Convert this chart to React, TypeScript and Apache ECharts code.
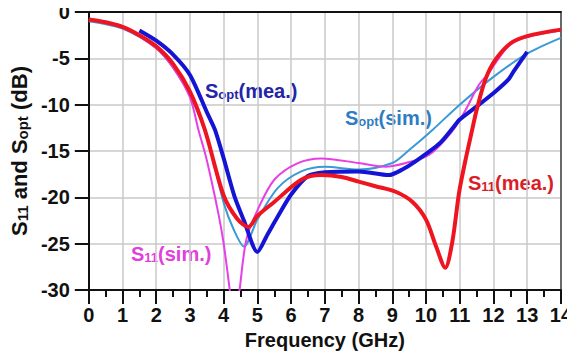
import React, { useEffect, useRef } from "react";
import * as echarts from "echarts";

const xTicks = [0, 14];
const yRange = [-30, 0];

const s11MeaX = [0, 0.5, 1, 1.5, 2, 2.5, 3, 3.44, 4.0, 4.4, 4.73, 5.0, 5.5, 6.3, 6.9, 7.5, 8.0, 8.5, 9.1, 9.6, 10.0, 10.3, 10.57, 10.78, 10.98, 11.17, 11.37, 11.5, 11.76, 12.05, 12.5, 13.0, 14.0];
const s11MeaY = [-0.8, -1.1, -1.6, -2.5, -3.7, -5.6, -8.6, -12.7, -19.8, -22.3, -23.2, -22.0, -20.5, -18.1, -17.6, -17.8, -18.3, -18.8, -19.4, -20.5, -22.4, -25.3, -27.6, -24.8, -19.5, -16.0, -12.7, -10.6, -7.3, -5.2, -3.4, -2.6, -1.9];

const soptMeaX = [1.5, 2, 2.5, 3, 3.5, 3.74, 4.0, 4.32, 4.6, 5.0, 5.3, 5.6, 6.0, 6.5, 7.0, 8.0, 8.9, 9.3, 9.7, 10.4, 10.8, 11.0, 11.5, 12.05, 12.44, 12.6, 13.0];
const soptMeaY = [-2.0, -3.1, -4.6, -6.8, -10.8, -12.7, -15.8, -19.9, -22.5, -25.9, -24.0, -22.1, -19.7, -17.7, -17.3, -17.2, -17.6, -17.0, -16.1, -14.2, -12.5, -11.6, -10.2, -8.6, -7.3, -6.4, -4.3];

const soptSimX = [0, 1, 2, 2.5, 3, 3.5, 4.0, 4.3, 4.6, 5.0, 5.6, 6.3, 7.0, 8.0, 9.0, 9.5, 10.2, 11.0, 12.0, 13.0, 14.0];
const soptSimY = [-1.0, -1.8, -3.9, -6.0, -9.0, -13.5, -20.6, -23.5, -25.3, -22.4, -19.0, -17.2, -16.7, -17.0, -16.3, -14.9, -12.7, -10.0, -7.0, -4.5, -2.8];

const s11SimX = [0, 1, 2, 2.5, 3, 3.25, 3.5, 3.84, 4.0, 4.18, 4.32, 4.47, 4.67, 5.0, 5.5, 6.2, 6.9, 8.0, 8.8, 9.4, 10.1, 10.77, 11.17, 11.56, 11.86, 12.1, 12.5, 13.0, 14.0];
const s11SimY = [-0.8, -1.7, -3.9, -6.0, -9.2, -12.7, -16.0, -21.7, -25.0, -30.0, -34.0, -30.0, -24.6, -21.4, -18.1, -16.3, -15.8, -16.3, -16.7, -16.3, -15.4, -12.9, -10.6, -7.9, -6.6, -5.3, -3.5, -2.7, -2.0];

const pairs = (xs: number[], ys: number[]) => xs.map((x, i) => [x, ys[i]]);

const FONT = "'Liberation Sans', Arial, sans-serif";

function label(main1: string, sub: string, main2: string, color: string, size = 20, subSize = 13) {
  return {
    text: `{m|${main1}}{s|${sub}}{m|${main2}}`,
    rich: {
      m: { fontSize: size, fontWeight: "bold", fontFamily: FONT, fill: color, color, lineHeight: size },
      s: { fontSize: subSize, fontWeight: "bold", fontFamily: FONT, fill: color, color, lineHeight: 6, verticalAlign: "bottom" },
    },
  };
}

export default function App() {
  const ref = useRef<HTMLDivElement>(null);
  useEffect(() => {
    if (!ref.current) return;
    const chart = echarts.init(ref.current, null, { renderer: "svg" });
    const gridColor = "#c8c8c8";
    chart.setOption({
      animation: false,
      backgroundColor: "#ffffff",
      grid: { left: 86, right: 12, top: 12, bottom: 71, containLabel: false },
      xAxis: [
        {
          type: "value",
          min: xTicks[0],
          max: xTicks[1],
          interval: 1,
          name: "Frequency (GHz)",
          nameLocation: "middle",
          nameGap: 40,
          nameTextStyle: { fontSize: 20, fontWeight: "bold", fontFamily: FONT, color: "#111" },
          axisLine: { show: true, onZero: false, lineStyle: { color: "#111", width: 2 } },
          axisTick: { show: true, length: 14, lineStyle: { color: "#111", width: 2 } },
          minorTick: { show: true, splitNumber: 2, length: 7, lineStyle: { color: "#111", width: 2 } },
          axisLabel: { fontSize: 20, fontWeight: "bold", fontFamily: FONT, color: "#111", margin: 15 },
          splitLine: { show: true, lineStyle: { color: gridColor, width: 1.5 } },
        },
        {
          type: "value",
          position: "top",
          min: xTicks[0],
          max: xTicks[1],
          axisLine: { show: true, onZero: false, lineStyle: { color: "#111", width: 2 } },
          axisTick: { show: false },
          axisLabel: { show: false },
          splitLine: { show: false },
        },
      ],
      yAxis: [
        {
          type: "value",
          min: yRange[0],
          max: yRange[1],
          interval: 5,
          name: "{m|S}{s|11}{m| and S}{s|opt}{m| (dB)}",
          nameLocation: "middle",
          nameRotate: 90,
          nameGap: 58,
          nameTextStyle: {
            color: "#111",
            rich: {
              m: { fontSize: 22, fontWeight: "bold", fontFamily: FONT, color: "#111", lineHeight: 22 },
              s: { fontSize: 15, fontWeight: "bold", fontFamily: FONT, color: "#111", lineHeight: 6, verticalAlign: "bottom" },
            },
          },
          axisLine: { show: true, onZero: false, lineStyle: { color: "#111", width: 2 } },
          axisTick: { show: true, length: 14, lineStyle: { color: "#111", width: 2 } },
          axisLabel: { fontSize: 20, fontWeight: "bold", fontFamily: FONT, color: "#111", margin: 19 },
          splitLine: { show: true, lineStyle: { color: gridColor, width: 1.5 } },
        },
        {
          type: "value",
          position: "right",
          min: yRange[0],
          max: yRange[1],
          axisLine: { show: true, onZero: false, lineStyle: { color: "#444", width: 1.5 } },
          axisTick: { show: false },
          axisLabel: { show: false },
          splitLine: { show: false },
        },
      ],
      series: [
        {
          name: "Sopt(sim.)",
          type: "line",
          data: pairs(soptSimX, soptSimY),
          showSymbol: false,
          smooth: 0.3,
          clip: true,
          lineStyle: { color: "#3a9ad8", width: 2 },
        },
        {
          name: "S11(sim.)",
          type: "line",
          data: pairs(s11SimX, s11SimY),
          showSymbol: false,
          smooth: 0.3,
          clip: true,
          lineStyle: { color: "#e83ee6", width: 2 },
        },
        {
          name: "Sopt(mea.)",
          type: "line",
          data: pairs(soptMeaX, soptMeaY),
          showSymbol: false,
          smooth: 0.25,
          clip: true,
          lineStyle: { color: "#1414d4", width: 4 },
        },
        {
          name: "S11(mea.)",
          type: "line",
          data: pairs(s11MeaX, s11MeaY),
          showSymbol: false,
          smooth: 0.3,
          clip: true,
          lineStyle: { color: "#ee1520", width: 4 },
        },
      ],
      graphic: [
        { type: "text", x: 205, y: 81, style: label("S", "opt", "(mea.)", "#2424a8") },
        { type: "text", x: 345, y: 108, style: label("S", "opt", "(sim.)", "#2f7cc0") },
        { type: "text", x: 131, y: 244, style: label("S", "11", "(sim.)", "#e040dc") },
        { type: "text", x: 468, y: 173, style: label("S", "11", "(mea.)", "#d81e28") },
      ],
    });
    return () => chart.dispose();
  }, []);
  return <div ref={ref} style={{ width: 575, height: 361, margin: -8 }} />;
}
